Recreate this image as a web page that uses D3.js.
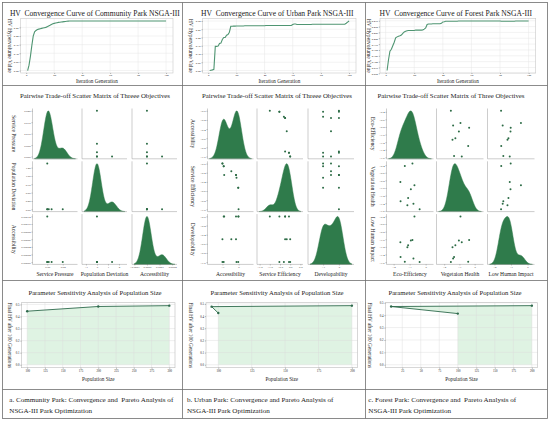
<!DOCTYPE html>
<html><head><meta charset="utf-8">
<script src="https://cdn.jsdelivr.net/npm/d3@7"></script>
<style>
body{margin:0;background:#fff}
svg{display:block}
text{font-family:"Liberation Serif","Times New Roman",serif;fill:#222;white-space:pre}
</style></head>
<body><svg id="c" width="550" height="421"></svg>
<script>
// ================= DATA =================
const generations = d3.range(1, 101);
const genTicks = [0, 20, 40, 60, 80, 100];

const communityHV = [
0.200,0.231,0.282,0.344,0.399,0.424,0.432,0.438,0.440,0.442,
0.444,0.446,0.448,0.450,0.454,0.458,0.462,0.467,0.471,0.473,
0.475,0.477,0.479,0.480,0.481,0.482,0.483,0.484,0.485,0.486,
0.487,0.487,0.487,0.487,0.487,0.487,0.487,0.487,0.487,0.487,
0.487,0.487,0.487,0.487,0.487,0.487,0.487,0.487,0.487,0.487,
0.487,0.487,0.487,0.487,0.487,0.487,0.487,0.487,0.487,0.487,
0.487,0.487,0.487,0.487,0.487,0.487,0.487,0.487,0.487,0.487,
0.487,0.487,0.487,0.487,0.487,0.487,0.487,0.487,0.487,0.487,
0.487,0.487,0.487,0.487,0.487,0.487,0.487,0.487,0.487,0.487,
0.487,0.487,0.487,0.487,0.487,0.487,0.487,0.487,0.487,0.487];
const urbanHV = [
0.200,0.202,0.204,0.207,0.346,0.346,0.348,0.364,0.366,0.388,
0.400,0.400,0.414,0.418,0.432,0.468,0.468,0.469,0.469,0.470,
0.470,0.470,0.470,0.470,0.470,0.471,0.471,0.471,0.471,0.471,
0.471,0.471,0.471,0.471,0.471,0.471,0.471,0.471,0.471,0.471,
0.473,0.473,0.473,0.473,0.473,0.473,0.473,0.473,0.473,0.473,
0.473,0.473,0.473,0.473,0.473,0.473,0.473,0.473,0.473,0.479,
0.482,0.482,0.479,0.479,0.479,0.479,0.479,0.479,0.479,0.479,
0.479,0.479,0.479,0.480,0.480,0.480,0.480,0.480,0.480,0.480,
0.480,0.480,0.480,0.480,0.480,0.480,0.480,0.480,0.480,0.480,
0.480,0.480,0.480,0.480,0.480,0.480,0.480,0.486,0.493,0.500];
const forestHV = [
0.262,0.308,0.345,0.353,0.368,0.383,0.402,0.406,0.409,0.411,
0.414,0.421,0.427,0.430,0.432,0.433,0.433,0.433,0.433,0.433,
0.435,0.435,0.435,0.435,0.435,0.436,0.439,0.444,0.459,0.461,
0.461,0.461,0.462,0.462,0.462,0.462,0.462,0.462,0.464,0.470,
0.471,0.473,0.473,0.473,0.473,0.473,0.473,0.473,0.473,0.473,
0.474,0.474,0.474,0.474,0.474,0.474,0.474,0.474,0.474,0.474,
0.474,0.474,0.474,0.474,0.474,0.474,0.474,0.474,0.474,0.474,
0.474,0.474,0.474,0.474,0.474,0.474,0.474,0.474,0.474,0.474,
0.473,0.473,0.473,0.473,0.473,0.473,0.473,0.473,0.473,0.473,
0.474,0.474,0.474,0.474,0.474,0.474,0.474,0.474,0.474,0.474];
const communityHVTicks = [0.20,0.25,0.30,0.35,0.40,0.45];
const urbanHVTicks = [0.20,0.25,0.30,0.35,0.40,0.45,0.50];
const forestHVTicks = [0.250,0.275,0.300,0.325,0.350,0.375,0.400,0.425,0.450,0.475];

// Community park objectives
const commServicePressure = [0.020, 0.0056, 0.0019, 0.000, 0.000, 0.000];
const commPopDeviation    = [0.00, 0.00, 0.00, 0.00, 1.37, 0.00];
const commAccessibility   = [0, 0, 0, 0, 0, 0.00012];
const commXTicks = [[0.00, 0.02], [-1, 0, 1, 2], [-0.0001, 0.0000, 0.0001, 0.0002]];
const commYTicks = [[0.000,0.005,0.010,0.015,0.020],[0.00,0.25,0.50,0.75,1.00,1.25],
                    [0.00000,0.00002,0.00004,0.00006,0.00008,0.00010,0.00012]];
const commNames = ["Service Pressure", "Population Deviation", "Accessibility"];

// Urban park objectives
const urbAccessibility = [0.0,-0.02,-0.02,-0.13,-0.16,-0.16,-0.45,-0.89,-0.92,-0.92,-1.0,-1.0];
const urbServiceEff    = [-1.0,-0.53,-0.53,-0.31,-0.25,-0.25,-0.17,-0.25,-0.06,-0.06,0.0,0.0];
const urbDevelopability= [0.0,0.0,-1.0,-1.0,-0.5,0.0,-0.5,0.0,-1.0,0.0,-0.5,-1.0];
const urbXTicks = [[-1, 0], [-1.5, -1.0, -0.5, 0.0, 0.5], [-1, 0]];
const urbYTick = [-1.0,-0.8,-0.6,-0.4,-0.2,0.0];
const urbNames = ["Accessibility", "Service Efficiency", "Developability"];

// Forest park objectives
const forEcoEff   = [-0.373,-0.698,-0.761,-0.824,-0.923,-1.095,-1.140,-1.302,-1.565,-1.580];
const forVegHealth= [-1.560,-0.929,-1.412,-0.360,-1.032,-1.264,-1.453,-0.423,-1.349,-0.844];
const forLowHuman = [-1.600,-0.400,-1.503,-1.019,-1.030,-1.155,-1.213,-1.590,-1.465,-1.077];
const forXTicks = [[-2, -1, 0], [-2, -1, 0], [-2, -1, 0]];
const forYTick = [-1.6,-1.4,-1.2,-1.0,-0.8,-0.6,-0.4];
const forYNames = ["Eco-Efficiency", "Vegetation Health", "Low Human Impact"];
const forXNames = ["Eco-Efficiency", "Vegetaion Health", "Low Human Impact"];

// Sensitivity analysis (population size -> final HV), in plotted order
const commPop = [100, 200, 300];  const commFinal = [0.444, 0.483, 0.490];
const urbPop  = [100, 95, 200];   const urbFinal  = [0.425, 0.478, 0.486];
const forPop  = [100, 10, 200];   const forFinal  = [0.413, 0.470, 0.477];
const commPopTicks = [100,125,150,175,200,225,250,275,300];
const urbPopTicks  = [100,125,150,175,200];
const forPopTicks  = [25,50,75,100,125,150,175,200];
const sensYTicks   = [0.0,0.1,0.2,0.3,0.4,0.5];

const captions = [
 ["a. Community Park: Convergence and  Pareto Analysis of", "NSGA-III Park Optimization"],
 ["b. Urban Park: Convergence and Pareto Analysis of", "NSGA-III Park Optimization"],
 ["c. Forest Park: Convergence and  Pareto Analysis of", "NSGA-III Park Optimization"]];

// ================= DRAWING =================
const svg = d3.select("#c");
const GREEN_LINE = "#4f9572", KDE_FILL = "#2f7b4b", DOT = "#2c6b45";
const SENS_LINE = "#2e6a4c", SENS_FILL = "#dff3e3";
const pad = (e, f = 0.05) => { const r = (e[1] - e[0]) || 1; return [e[0] - r * f, e[1] + r * f]; };

function txt(x, y, s, size, opts = {}) {
  const t = svg.append("text").attr("x", x).attr("y", y).attr("font-size", size)
    .attr("text-anchor", opts.anchor || "middle").text(s);
  if (opts.rotate) t.attr("transform", `rotate(90,${x},${y})`);
  if (opts.weight) t.attr("font-weight", opts.weight);
  return t;
}
function styleAxis(g, size) {
  g.select(".domain").remove();
  g.selectAll("line").attr("stroke", "#555").attr("stroke-width", 0.4);
  g.selectAll("text").attr("font-size", size).style("font-family", '"Liberation Serif",serif').attr("fill", "#333");
}

// ---- convergence panels ----
function convergence(f, vals, yTicks, yFmt, title) {
  const x = d3.scaleLinear().domain(pad([1, 100])).range([f.x0, f.x1]);
  const y = d3.scaleLinear().domain(pad(d3.extent(vals))).range([f.y1, f.y0]);
  const g = svg.append("g");
  g.selectAll(".gx").data(genTicks).join("line").attr("x1", d => x(d)).attr("x2", d => x(d))
    .attr("y1", f.y0).attr("y2", f.y1).attr("stroke", "#e6e6e6").attr("stroke-width", 0.5);
  g.selectAll(".gy").data(yTicks).join("line").attr("y1", d => y(d)).attr("y2", d => y(d))
    .attr("x1", f.x0).attr("x2", f.x1).attr("stroke", "#e6e6e6").attr("stroke-width", 0.5);
  g.append("rect").attr("x", f.x0).attr("y", f.y0).attr("width", f.x1 - f.x0).attr("height", f.y1 - f.y0)
    .attr("fill", "none").attr("stroke", "#c8c8c8").attr("stroke-width", 0.6);
  const ax = g.append("g").attr("transform", `translate(0,${f.y1})`)
    .call(d3.axisBottom(x).tickValues(genTicks).tickSize(1).tickPadding(0.4));
  styleAxis(ax, 2.8);
  const ay = g.append("g").attr("transform", `translate(${f.x0},0)`)
    .call(d3.axisLeft(y).tickValues(yTicks).tickFormat(d3.format(yFmt)).tickSize(1.2).tickPadding(0.8));
  styleAxis(ay, 2.8);
  g.append("path").datum(vals).attr("fill", "none").attr("stroke", GREEN_LINE).attr("stroke-width", 1.1)
    .attr("d", d3.line().x((d, i) => x(generations[i])).y(d => y(d)));
  txt((f.x0 + f.x1) / 2 - 2, 16.3, title, 7.6);
  txt((f.x0 + f.x1) / 2, 83.2, "Iteration Generation", 5.2);
  txt(f.ylx, (f.y0 + f.y1) / 2, "HV Hypervolume Value", 5.6, { rotate: true });
}

convergence({ x0: 20.7, x1: 173, y0: 18.5, y1: 73, ylx: 7.6 }, communityHV, communityHVTicks, ".2f",
  "HV  Convergence Curve of Community Park NSGA-III");
convergence({ x0: 202.7, x1: 356, y0: 18.5, y1: 73, ylx: 188.6 }, urbanHV, urbanHVTicks, ".2f",
  "HV  Convergence Curve of Urban Park NSGA-III");
convergence({ x0: 380, x1: 535.7, y0: 18.5, y1: 73, ylx: 366.8 }, forestHV, forestHVTicks, ".3f",
  "HV  Convergence Curve of Forest Park NSGA-III");

// ---- pairplot matrices ----
function kde(vals) {
  const n = vals.length, h = d3.deviation(vals) * Math.pow(n, -0.2);
  const lo = d3.min(vals) - 3 * h, hi = d3.max(vals) + 3 * h;
  const grid = d3.range(200).map(i => lo + (hi - lo) * i / 199);
  const dens = grid.map(xv => [xv, d3.sum(vals, v => Math.exp(-0.5 * ((xv - v) / h) ** 2)) / (n * h * Math.sqrt(2 * Math.PI))]);
  return { dens, lo, hi };
}
const ROWS = [108.5, 161.3, 214.1], CH = 50.3;
function matrix(o) {
  const V = o.vars, n = V[0].length, idx = d3.range(n);
  const K = V.map(kde);
  const xs = V.map((v, i) => d3.scaleLinear().domain(pad([Math.min(d3.min(v), K[i].lo), Math.max(d3.max(v), K[i].hi)]))
    .range([o.cols[i], o.cols[i] + o.cw]));
  const ys = V.map((v, i) => d3.scaleLinear().domain(pad(d3.extent(v))).range([ROWS[i] + CH, ROWS[i]]));
  const g = svg.append("g");
  for (let r = 0; r < 3; r++) for (let c = 0; c < 3; c++) {
    const x0 = o.cols[c], y0 = ROWS[r];
    const cell = g.append("g");
    if (r === c) {
      const dy = d3.scaleLinear().domain([0, d3.max(K[c].dens, d => d[1]) * 1.05]).range([y0 + CH, y0]);
      cell.append("path").datum(K[c].dens).attr("fill", KDE_FILL).attr("stroke", KDE_FILL).attr("stroke-width", 0.5)
        .attr("d", d3.area().x(d => xs[c](d[0])).y0(y0 + CH).y1(d => dy(d[1])));
    } else {
      cell.selectAll("circle").data(idx).join("circle").attr("cx", i => xs[c](V[c][i])).attr("cy", i => ys[r](V[r][i]))
        .attr("r", 1.0).attr("fill", DOT);
    }
    cell.append("path").attr("d", `M${x0},${y0}V${y0 + CH}H${x0 + o.cw}`).attr("fill", "none")
      .attr("stroke", "#9a9a9a").attr("stroke-width", 0.5);
  }
  for (let r = 0; r < 3; r++) {
    const ay = g.append("g").attr("transform", `translate(${o.cols[0]},0)`)
      .call(d3.axisLeft(ys[r]).tickValues(o.yTicks[r]).tickFormat(o.yFmt[r]).tickSize(1).tickPadding(0.8));
    styleAxis(ay, 2.9);
    txt(o.ylx, ROWS[r] + CH / 2, o.ynames[r], 5.6, { rotate: true });
  }
  for (let c = 0; c < 3; c++) {
    const ax = g.append("g").attr("transform", `translate(0,${ROWS[2] + CH})`)
      .call(d3.axisBottom(xs[c]).tickValues(o.xTicks[c]).tickFormat(o.xFmt[c]).tickSize(1).tickPadding(0.8));
    styleAxis(ax, 2.9);
    txt(o.cols[c] + o.cw / 2, 275.6, o.xnames[c], 5.6);
  }
  txt(o.tx, 98, o.title, 6.8);
}
const negZero = f => v => (v === 0 ? "\u22120.0" : d3.format(f)(v));
matrix({ vars: [commServicePressure, commPopDeviation, commAccessibility], cols: [32.5, 82, 132], cw: 45,
  xTicks: commXTicks, yTicks: commYTicks, xFmt: [d3.format(".2f"), d3.format("d"), d3.format(".4f")],
  yFmt: [d3.format(".3f"), d3.format(".2f"), d3.format(".5f")], ynames: commNames, xnames: commNames,
  ylx: 11.5, tx: 95, title: "Pairwise Trade-off Scatter Matrix of Threee Objectives" });
matrix({ vars: [urbAccessibility, urbServiceEff, urbDevelopability], cols: [207.5, 257, 308], cw: 46,
  xTicks: urbXTicks, yTicks: [urbYTick, urbYTick, urbYTick], xFmt: [d3.format("d"), d3.format(".1f"), d3.format("d")],
  yFmt: [negZero(".1f"), negZero(".1f"), negZero(".1f")], ynames: urbNames, xnames: urbNames,
  ylx: 190.5, tx: 277, title: "Pairwise Trade-off Scatter Matrix of Threee Objectives" });
matrix({ vars: [forEcoEff, forVegHealth, forLowHuman], cols: [386.5, 436.5, 487.5], cw: 47,
  xTicks: forXTicks, yTicks: [forYTick, forYTick, forYTick], xFmt: [d3.format("d"), d3.format("d"), d3.format("d")],
  yFmt: [d3.format(".1f"), d3.format(".1f"), d3.format(".1f")], ynames: forYNames, xnames: forXNames,
  ylx: 370.5, tx: 451, title: "Pairwise Trade-off Scatter Matrix of Three Objectives" });

// ---- sensitivity panels ----
function sensitivity(f, pops, hv, xTicks) {
  const x = d3.scaleLinear().domain(pad(d3.extent(pops), 0.04)).range([f.x0, f.x1]);
  const y = d3.scaleLinear().domain(pad([0, d3.max(hv)])).range([f.y1, f.y0]);
  const g = svg.append("g");
  const idx = d3.range(pops.length);
  g.append("path").datum(idx).attr("fill", SENS_FILL)
    .attr("d", d3.area().x(i => x(pops[i])).y0(y(0)).y1(i => y(hv[i])));
  const yt = sensYTicks.filter(t => t <= y.domain()[1]);
  g.selectAll(".gx").data(xTicks).join("line").attr("x1", d => x(d)).attr("x2", d => x(d))
    .attr("y1", f.y0).attr("y2", f.y1).attr("stroke", "#dcdcdc").attr("stroke-width", 0.45);
  g.selectAll(".gy").data(yt).join("line").attr("y1", d => y(d)).attr("y2", d => y(d))
    .attr("x1", f.x0).attr("x2", f.x1).attr("stroke", "#dcdcdc").attr("stroke-width", 0.45);
  g.append("rect").attr("x", f.x0).attr("y", f.y0).attr("width", f.x1 - f.x0).attr("height", f.y1 - f.y0)
    .attr("fill", "none").attr("stroke", "#bdbdbd").attr("stroke-width", 0.6);
  const ax = g.append("g").attr("transform", `translate(0,${f.y1})`)
    .call(d3.axisBottom(x).tickValues(xTicks).tickFormat(d3.format("d")).tickSize(1.2).tickPadding(0.8));
  styleAxis(ax, 3);
  const ay = g.append("g").attr("transform", `translate(${f.x0},0)`)
    .call(d3.axisLeft(y).tickValues(yt).tickFormat(d3.format(".1f")).tickSize(1.2).tickPadding(0.8));
  styleAxis(ay, 3);
  g.append("path").datum(idx).attr("fill", "none").attr("stroke", SENS_LINE).attr("stroke-width", 0.9)
    .attr("d", d3.line().x(i => x(pops[i])).y(i => y(hv[i])));
  g.selectAll("circle").data(idx).join("circle").attr("cx", i => x(pops[i])).attr("cy", i => y(hv[i]))
    .attr("r", 1.2).attr("fill", SENS_LINE);
  txt(f.tx, 294.5, "Parameter Sensitivity Analysis of Population Size", 6.7);
  txt((f.x0 + f.x1) / 2, 381.4, "Population Size", 5.2);
  txt(f.ylx, (f.y0 + f.y1) / 2, "Final HV after 100 Generations", 5.2, { rotate: true });
}
sensitivity({ x0: 21.5, x1: 175, y0: 302.7, y1: 367.7, ylx: 7.6, tx: 95 }, commPop, commFinal, commPopTicks);
sensitivity({ x0: 206, x1: 357.5, y0: 302.7, y1: 367.7, ylx: 189, tx: 277 }, urbPop, urbFinal, urbPopTicks);
sensitivity({ x0: 385.5, x1: 537.5, y0: 302.7, y1: 367.7, ylx: 368, tx: 455 }, forPop, forFinal, forPopTicks);

// ---- captions ----
const capX = [9.3, 187, 368.3];
captions.forEach((c, i) => {
  txt(capX[i], 402, c[0], 7.1, { anchor: "start" });
  txt(capX[i], 413, c[1], 7.1, { anchor: "start" });
});

// ---- panel borders ----
const bd = svg.append("g").attr("stroke", "#6e6e6e").attr("stroke-width", 0.8).attr("fill", "none");
bd.append("rect").attr("x", 2.5).attr("y", 2.5).attr("width", 545).attr("height", 416);
[182.5, 365.5].forEach(xv => bd.append("line").attr("x1", xv).attr("x2", xv).attr("y1", 2.5).attr("y2", 418.5));
[85.5, 280.5, 389.5].forEach(yv => bd.append("line").attr("x1", 2.5).attr("x2", 547.5).attr("y1", yv).attr("y2", yv));
</script></body></html>
